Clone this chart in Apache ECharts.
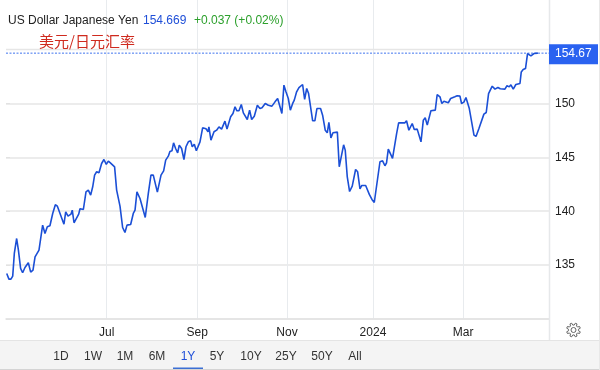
<!DOCTYPE html>
<html>
<head>
<meta charset="utf-8">
<style>html,body{margin:0;padding:0;background:#fff}#c{width:600px;height:370px}</style>
<script src="https://cdn.jsdelivr.net/npm/echarts@6/dist/echarts.min.js"></script>
</head>
<body>
<div id="c"></div>
<script>
// Days since the left edge of the one-year window
const days = [0.5,2,3.4,4.6,5.7,7.3,8.5,10,11.4,13,15.3,16.9,18.5,19.9,22.6,25.1,26.7,28.3,30.1,32,33.8,35.2,39.7,40.9,42.5,44.5,45.4,46.6,49.8,50.7,53,54.8,56.4,58,59.4,60.7,62.1,63.7,65.5,67.1,68.7,70.1,71.5,72.8,74.4,75.8,78.1,79.9,81.5,82.9,85.4,87.2,88.4,89.7,91.8,95.4,97.5,99.3,100.9,103.7,106.2,108,109.4,111.2,112.3,113.7,114.8,116.2,117.6,118.7,120.3,121.9,123.3,124.9,126.5,127.6,129,130.4,132.9,134.7,137,138.4,139,140.4,142.5,144.3,145.9,147.7,150,151.4,153.9,155.5,156.9,158.2,159.6,161.2,162.6,163.7,165.3,166.9,168.3,170.1,172.2,174,175.4,177.6,179.7,182.2,184.3,186.1,187.7,189,190.4,191.8,193.4,194.8,196.4,197.5,199.1,200.7,203.2,204.6,206,207.3,210.1,211.6,213,215.5,216.9,218.7,220.1,221.2,222.6,224,227,228.3,231.3,232.4,233.8,235.4,237.2,239.5,240.9,242.5,243.8,246.4,248.9,250.7,252.3,256.2,258,259.6,260.7,261.9,264.8,267.6,269,273.3,274.4,276,278.3,279.7,281.7,284.3,285.9,287.2,288.6,289.7,291.1,294.1,295.4,297.3,298.6,300,303,304.6,307.5,309.1,309.8,311,312.1,313.7,315.1,317.4,320.6,322,324,325.1,327.4,329,330.6,333.1,335,337,338.6,341.8,343.2,344.8,345.9,347.5,349.3,352.1,353,354.3,355.9,357.3,358.5,359.6,361.7,364.4];
const rates = [134.22,133.7,133.7,133.98,136.08,137.47,136.39,134.69,134.29,134.78,135.22,134.35,134.54,135.77,136.39,138.71,137.94,138.56,138.65,139.79,140.6,140.47,138.8,139.95,139.55,139.73,140.1,138.93,139.73,140.23,140.16,141.8,141.96,141.49,142.27,143.35,143.66,143.57,144.43,144.8,144.34,144.65,144.49,144.65,144.12,141.96,140.47,138.49,138.03,138.71,138.77,139.79,140.1,141.8,141.18,139.42,141.65,143.35,143.35,141.77,143.35,143.75,144.74,145.11,145.54,145.61,146.35,145.82,145.42,146.13,145.82,144.8,145.98,146.44,146.53,145.98,146.22,145.61,146.44,147.74,147.65,147.37,147.83,146.6,147.37,147.52,147.83,147.62,148.36,147.62,148.76,149.07,149.69,149.32,149.32,149.9,149.13,149.16,148.51,149.38,148.51,148.82,149.84,149.53,149.6,150,149.84,149.75,150.15,150.46,149.69,149.07,151.7,151.08,150.46,149.38,150,150.31,151.08,151.48,151.76,150.37,151.39,150.92,148.39,148.39,149.53,149.53,148.91,147.52,147.28,148.24,146.81,147.28,147.34,144.12,146.16,145.67,143.19,141.83,142.33,143.87,143.66,142.08,142.39,142.39,141.56,141.09,140.81,144.59,144.68,144.22,144.49,145.76,144.9,147.21,148.2,148.2,148.39,147.52,148.14,147.59,147.62,146.44,148.45,148.67,147.99,148.14,149.32,149.38,150.83,150.62,150,150.21,150.06,150.46,150.62,150.71,150.55,150.68,150,150.12,150.55,149.53,147.06,146.94,147.68,147.83,149.01,149.16,150.92,151.6,151.33,151.48,151.36,151.33,151.64,151.54,151.73,151.33,151.76,151.85,152.93,153.15,153.24,154.63,154.73,154.42,154.63,154.669];
const monthTicks = [69,131,192.5,251.4,313.2];
const monthLabels = ['Jul','Sep','Nov','2024','Mar'];
const yTicks = [135,140,145,150];
const topGridValue = 155;
const lastPrice = 154.669;
const lastLabel = '154.67';
const rangeButtons = ['1D','1W','1M','6M','1Y','5Y','10Y','25Y','50Y','All'];

const FONT = '"Liberation Sans", Arial, sans-serif';
const buttonX = [61,93,125,157,188,217,251,286,322,355];

function gearPath(cx, cy) {
  const pts = [];
  const n = 8;
  for (let i = 0; i < n; i++) {
    const a = i * 2 * Math.PI / n - Math.PI / 8;
    const s = Math.PI / n;
    [[5, -0.62], [7, -0.34], [7, 0.34], [5, 0.62]].forEach(p => {
      pts.push([cx + p[0] * Math.cos(a + p[1] * s), cy + p[0] * Math.sin(a + p[1] * s)]);
    });
  }
  return pts;
}

const graphics = [
  {type:'rect', silent:true, z:0, shape:{x:0,y:341,width:600,height:28}, style:{fill:'#f4f4f4'}},
  {type:'line', silent:true, z:1, shape:{x1:0,y1:340.5,x2:600,y2:340.5}, style:{stroke:'#e4e4e4',lineWidth:1}},
  {type:'line', silent:true, z:1, shape:{x1:0,y1:369.5,x2:600,y2:369.5}, style:{stroke:'#d4d4d4',lineWidth:1}},
  {type:'line', silent:true, z:1, shape:{x1:549.5,y1:0,x2:549.5,y2:340}, style:{stroke:'#e6e8ea',lineWidth:1.5}},
  {type:'line', silent:true, z:1, shape:{x1:599.5,y1:0,x2:599.5,y2:370}, style:{stroke:'#e8e8e8',lineWidth:1}},
  {type:'text', z:10, x:8, y:20.5, style:{text:'US Dollar Japanese Yen', font:'12px '+FONT, fill:'#222', verticalAlign:'middle'}},
  {type:'text', z:10, x:143, y:20.5, style:{text:String(lastPrice), font:'12px '+FONT, fill:'#1f4fd8', verticalAlign:'middle'}},
  {type:'text', z:10, x:194, y:20.5, style:{text:'+0.037 (+0.02%)', font:'12px '+FONT, fill:'#2ca02c', verticalAlign:'middle'}},
  {type:'text', z:10, x:39, y:41, style:{text:'美元/日元汇率', font:'15px "Noto Sans CJK SC"', fill:'#cf2a1e', verticalAlign:'middle'}},
  {type:'rect', silent:true, z:10, shape:{x:173,y:367.5,width:30,height:1.5}, style:{fill:'#3b6fd4'}},
  {type:'polygon', silent:true, z:10, shape:{points:gearPath(573.5,330)}, style:{fill:'#fff',stroke:'#666',lineWidth:1}},
  {type:'circle', silent:true, z:10, shape:{cx:573.5,cy:330,r:2.5}, style:{fill:'#fff',stroke:'#666',lineWidth:1}}
].concat(rangeButtons.map((t,i)=>({
  type:'text', x:buttonX[i], y:357, z:10,
  style:{text:t, font:'12px '+FONT, fill:t==='1Y'?'#1f4fd8':'#333', align:'center', verticalAlign:'middle'}
})));

const chart = echarts.init(document.getElementById('c'), null, {renderer:'canvas'});
chart.setOption({
  animation:false,
  backgroundColor:'#fff',
  grid:{left:6,right:51,top:0,bottom:51,containLabel:false},
  xAxis:{
    type:'value', min:0, max:372,
    axisLine:{show:true,lineStyle:{color:'#e2e2e2',width:1.5}},
    axisTick:{show:false,customValues:monthTicks},
    axisLabel:{
      customValues:monthTicks, margin:8, fontFamily:'"Liberation Sans"', fontSize:12, color:'#222',
      formatter:v=>monthLabels[monthTicks.indexOf(v)]||''
    },
    splitLine:{show:true,lineStyle:{color:'#e8ebee',width:1}}
  },
  yAxis:{
    type:'value', position:'right', min:130, max:159.6, interval:5,
    axisLine:{show:false},
    axisTick:{show:true,length:4,customValues:yTicks.concat([130]),lineStyle:{color:'#e2e2e2'}},
    axisLabel:{
      customValues:yTicks, margin:6, fontFamily:'"Liberation Sans"', fontSize:12, color:'#222'
    },
    splitLine:{show:true,lineStyle:{color:'#e6e6e6',width:1.5}}
  },
  series:[{
    type:'line', showSymbol:false, symbol:'none', z:1,
    data:[[0,topGridValue],[372,topGridValue]],
    lineStyle:{color:'#e6e6e6',width:1.5}
  },{
    type:'line', showSymbol:false, symbol:'none', smooth:false, z:3,
    data:days.map((d,i)=>[d,rates[i]]),
    lineStyle:{color:'#1b4fd6',width:1.6}
  },{
    type:'line', showSymbol:false, symbol:'none', z:2,
    data:[[0,lastPrice],[372,lastPrice]],
    lineStyle:{color:'#3f74ee',type:[2,1.5],width:1},
    endLabel:{
      show:true, formatter:lastLabel, distance:0, offset:[0,1],
      backgroundColor:'#2a62f0', color:'#fff', fontFamily:'"Liberation Sans"', fontSize:12,
      padding:[5,6,4,6], width:37, height:11, lineHeight:11
    }
  }],
  graphic:graphics
});
</script>
</body>
</html>
